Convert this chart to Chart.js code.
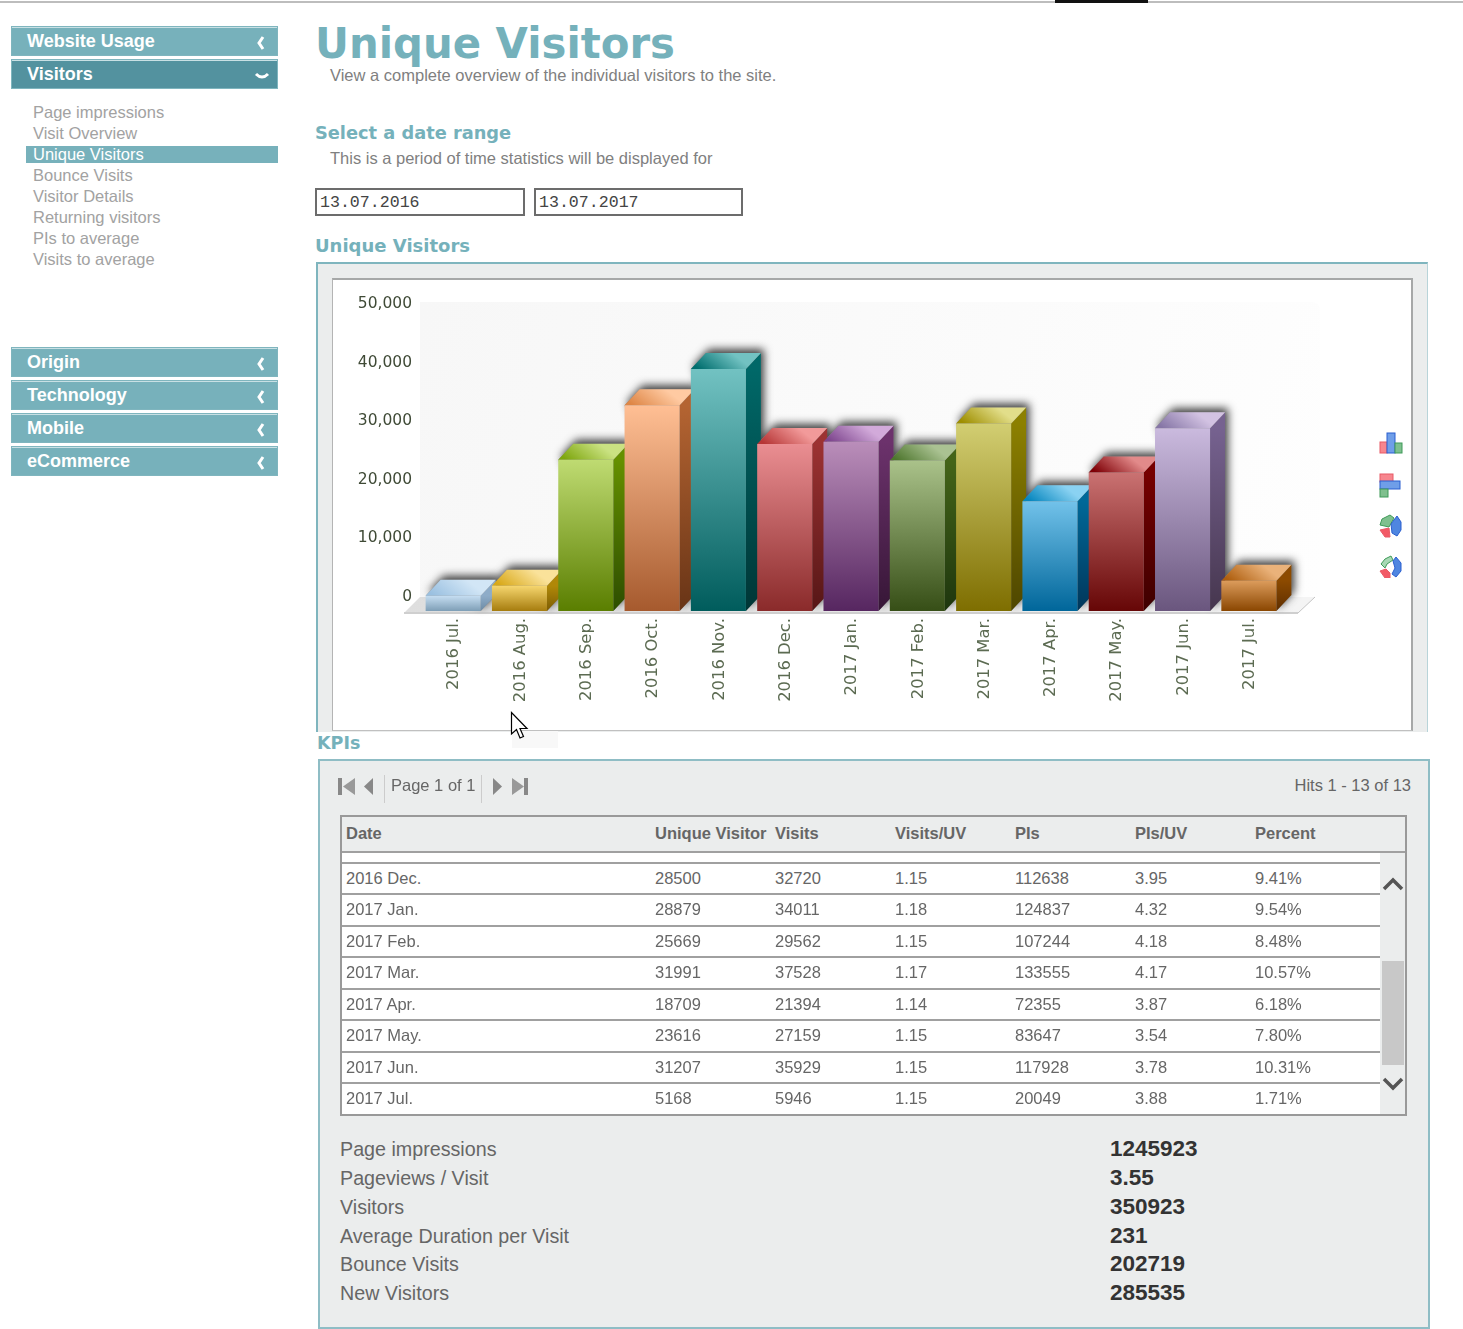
<!DOCTYPE html>
<html>
<head>
<meta charset="utf-8">
<title>Unique Visitors</title>
<script src="https://cdn.jsdelivr.net/npm/chart.js@4"></script>
<style>
html, body { margin: 0; padding: 0; background: #fff; }
body { position: relative; width: 1463px; height: 1329px; overflow: hidden; font-family: "Liberation Sans", Arial, sans-serif; }
.abs { position: absolute; white-space: nowrap; }
.btn { position: absolute; left: 11px; width: 265px; height: 27px; border: 1px solid #fff; outline: 1px solid #7fb5be; outline-offset: -1px; background: #77b1bb; border-top: 2px solid #c8e0e4; color: #fff; font-weight: bold; font-size: 18px; line-height: 27px; text-indent: 15px; }
.btn.dark { background: #53929f; }
.btn svg { position: absolute; right: 11px; top: 7px; }
.sub { position: absolute; left: 33px; font-size: 16.5px; color: #a2a2a2; line-height: 21px; }
.sub.on { left: 26px; width: 245px; padding-left: 7px; height: 17px; line-height: 17px; background: #77b1bb; color: #fff; }
.head { position: absolute; font-family: "DejaVu Sans", Verdana, sans-serif; font-weight: bold; color: #75b1bb; white-space: nowrap; }
.date { position: absolute; top: 188px; height: 24px; border: 2px solid #6c6c6c; font-family: "Liberation Mono", monospace; font-size: 16.6px; line-height: 25px; color: #444; padding-left: 3px; }
#panel { position: absolute; left: 316px; top: 262px; width: 1112px; height: 470px; background: #ebeded; border-top: 2px solid #7fb5be; border-left: 2px solid #7fb5be; border-right: 1px solid #b8d4d9; box-sizing: border-box; }
#frame { position: absolute; left: 332px; top: 278px; width: 1081px; height: 453px; background: #fff; border-top: 2px solid #a6a8a8; border-right: 2px solid #a6a8a8; border-left: 1px solid #b4b4b4; border-bottom: 1px solid #c0c0c0; box-sizing: border-box; }
#chartCanvas { position: absolute; left: 332px; top: 279px; }
#kpi { position: absolute; left: 318px; top: 759px; width: 1112px; height: 570px; background: #ebeded; border: 2px solid #8fbdc5; box-sizing: border-box; }
#grid { position: absolute; left: 340px; top: 815px; width: 1067px; height: 301px; border: 2px solid #999; box-sizing: border-box; }
#rows { position: absolute; left: 342px; top: 853px; width: 1038px; height: 261px; background: #fff; }
.line { position: absolute; height: 2px; background: #a0a0a0; }
.cell { position: absolute; font-size: 16.5px; color: #666; white-space: nowrap; line-height: 20px; }
.cell.h { font-weight: bold; }
.kLabel { position: absolute; left: 340px; font-size: 19.7px; color: #666; line-height: 26px; }
.kValue { position: absolute; left: 1110px; font-size: 22.5px; font-weight: bold; color: #333; line-height: 26px; }
</style>
</head>
<body>

<div class="abs" style="left:0;top:1px;width:1463px;height:2px;background:#bdbdbd"></div>
<div class="abs" style="left:1055px;top:0;width:93px;height:3px;background:#111"></div>

<div class="btn" style="top:26px">Website Usage<svg width="10" height="16"><path d="M7 2 L3 8 L7 14" stroke="#fff" stroke-width="3" fill="none"/></svg></div>
<div class="btn dark" style="top:59px">Visitors<svg width="16" height="16" style="top:8px;right:7px"><path d="M2 5 Q8 11 14 5" stroke="#fff" stroke-width="3" fill="none"/></svg></div>
<div class="btn" style="top:347px">Origin<svg width="10" height="16"><path d="M7 2 L3 8 L7 14" stroke="#fff" stroke-width="3" fill="none"/></svg></div>
<div class="btn" style="top:380px">Technology<svg width="10" height="16"><path d="M7 2 L3 8 L7 14" stroke="#fff" stroke-width="3" fill="none"/></svg></div>
<div class="btn" style="top:413px">Mobile<svg width="10" height="16"><path d="M7 2 L3 8 L7 14" stroke="#fff" stroke-width="3" fill="none"/></svg></div>
<div class="btn" style="top:446px">eCommerce<svg width="10" height="16"><path d="M7 2 L3 8 L7 14" stroke="#fff" stroke-width="3" fill="none"/></svg></div>

<div class="sub" style="top:102px">Page impressions</div>
<div class="sub" style="top:123px">Visit Overview</div>
<div class="sub on" style="top:146px">Unique Visitors</div>
<div class="sub" style="top:165px">Bounce Visits</div>
<div class="sub" style="top:186px">Visitor Details</div>
<div class="sub" style="top:207px">Returning visitors</div>
<div class="sub" style="top:228px">PIs to average</div>
<div class="sub" style="top:249px">Visits to average</div>

<div class="head" style="left:315px;top:19px;font-size:41.8px;line-height:50px">Unique Visitors</div>
<div class="abs" style="left:330px;top:65px;font-size:16.5px;line-height:20px;color:#808080">View a complete overview of the individual visitors to the site.</div>
<div class="head" style="left:315px;top:121px;font-size:17.8px;line-height:24px">Select a date range</div>
<div class="abs" style="left:330px;top:148px;font-size:16.5px;line-height:20px;color:#808080">This is a period of time statistics will be displayed for</div>
<div class="date" style="left:315px;width:203px">13.07.2016</div>
<div class="date" style="left:534px;width:202px">13.07.2017</div>
<div class="head" style="left:315px;top:234px;font-size:18px;line-height:24px">Unique Visitors</div>

<div id="panel"></div>
<div id="frame"></div>
<canvas id="chartCanvas" width="1080" height="451" style="width:1080px;height:451px"></canvas>

<svg class="abs" style="left:1378px;top:432px" width="26" height="146">
  <g stroke-width="1">
    <rect x="2" y="10" width="7" height="11" fill="#f7868e" stroke="#e85a66"/>
    <rect x="9" y="1" width="8" height="20" fill="#6f9ee8" stroke="#2a5fd0"/>
    <rect x="17" y="11" width="7" height="10" fill="#7fc08e" stroke="#3f9a58"/>
    <rect x="2" y="42" width="13" height="8" fill="#f7868e" stroke="#e85a66"/>
    <rect x="2" y="49" width="20" height="8" fill="#6f9ee8" stroke="#2a5fd0"/>
    <rect x="2" y="57" width="8" height="8" fill="#7fc08e" stroke="#3f9a58"/>
    <path d="M12 83 L4 87 L2 93 L11 95 L16 86 Z" fill="#7fc08e" stroke="#3f9a58"/>
    <path d="M19 84 L23 90 L23 98 L19 104 L14 101 L13 92 Z" fill="#4f86e0" stroke="#2a5fd0"/>
    <path d="M2 98 L11 96 L12 105 L7 105 Z" fill="#f25a66" stroke="#e85a66"/>
    <path d="M3 132 L7 127 L13 124 L15 128 L9 132 L7 136 Z" fill="#a8d8b4" stroke="#3f9a58"/>
    <path d="M18 125 L23 131 L23 139 L18 145 L14 142 L17 136 L15 129 Z" fill="#4f86e0" stroke="#2a5fd0"/>
    <path d="M2 139 L8 137 L12 141 L12 146 L7 146 Z" fill="#f25a66" stroke="#e85a66"/>
  </g>
</svg>

<div class="abs" style="left:512px;top:731px;width:46px;height:17px;background:#f8f8f8"></div>
<div class="head" style="left:317px;top:731px;font-size:17.5px;line-height:24px">KPIs</div>
<svg class="abs" style="left:510px;top:711px" width="20" height="30"><path d="M1.5 1.5 L1.5 23 L6.5 18.5 L10 27 L13.5 25.5 L10 17.5 L17 17.5 Z" fill="#fff" stroke="#000" stroke-width="1.2"/></svg>

<div id="kpi"></div>
<svg class="abs" style="left:336px;top:775px" width="200" height="28">
  <rect x="2" y="3" width="4" height="17" fill="#888"/><path d="M19 3 L7 11.5 L19 20 Z" fill="#999"/>
  <path d="M37 3 L28 11.5 L37 20 Z" fill="#888"/>
  <rect x="48" y="0" width="1" height="28" fill="#ccc"/>
  <rect x="145" y="0" width="1" height="28" fill="#ccc"/>
  <path d="M157 3 L166 11.5 L157 20 Z" fill="#888"/>
  <path d="M176 3 L188 11.5 L176 20 Z" fill="#999"/><rect x="188" y="3" width="4" height="17" fill="#888"/>
</svg>
<div class="abs" style="left:391px;top:775px;font-size:16.5px;line-height:20px;color:#666">Page 1 of 1</div>
<div class="abs" style="right:52px;top:775px;font-size:16.5px;line-height:20px;color:#666">Hits 1 - 13 of 13</div>

<div id="grid"></div>
<div id="rows"></div>
<div class="abs" style="left:1382px;top:961px;width:22px;height:104px;background:#c8c8c8"></div>
<svg class="abs" style="left:1382px;top:875px" width="22" height="218">
  <path d="M2 14 L11 5 L20 14" stroke="#555" stroke-width="3.5" fill="none"/>
  <path d="M2 204 L11 213 L20 204" stroke="#555" stroke-width="3.5" fill="none"/>
</svg>

<script>
// chart data
const categories = ['2016 Jul.', '2016 Aug.', '2016 Sep.', '2016 Oct.', '2016 Nov.', '2016 Dec.', '2017 Jan.', '2017 Feb.', '2017 Mar.', '2017 Apr.', '2017 May.', '2017 Jun.', '2017 Jul.'];
const uniqueVisitors = [2600, 4300, 25800, 35100, 41300, 28500, 28879, 25669, 31991, 18709, 23616, 31207, 5168];
const yMin = 0;
const yMax = 50000;
const yStep = 10000;

// bar colours, one entry per month
const frontTop = ['#c6def2', '#f6d66e', '#bfdb72', '#ffbf94', '#72c2c2', '#ea8e92', '#ba8eba', '#aac28a', '#d2ce72', '#72c2ea', '#ca7272', '#cabade', '#dc9c5c'];
const frontBottom = ['#7e9eb6', '#a67c0e', '#5a7e00', '#a65a2e', '#005c5c', '#8a2a2a', '#562660', '#364e16', '#7e6e00', '#00669a', '#660606', '#6a567e', '#8a4600'];
const sideTop = ['#8eacc8', '#b08808', '#659000', '#b46432', '#006868', '#9c3232', '#6c326c', '#446418', '#8c8000', '#006898', '#760000', '#766290', '#8c4a00'];
const sideBottom = ['#6c8aa4', '#7c5c04', '#2d4d00', '#683416', '#003636', '#561616', '#361636', '#1e360e', '#4e4600', '#00365a', '#3e0000', '#46364e', '#5e2e00'];
const capFront = ['#9ac0e0', '#d8a818', '#7ea60e', '#de8646', '#006e6e', '#b63636', '#7e468e', '#4e762e', '#9e8e00', '#0686be', '#7e0006', '#8676a6', '#ae5e0e'];
const capBack = ['#d2e6f6', '#fae29a', '#cae282', '#ffcaa2', '#72c2c2', '#f29a9a', '#d2aada', '#aac292', '#e2de8a', '#8ad2f2', '#e28a8a', '#d2c2e2', '#eab27a'];

// table rows
const tableHeader = ['Date', 'Unique Visitor', 'Visits', 'Visits/UV', 'PIs', 'PIs/UV', 'Percent'];
const tableDates = ['2016 Dec.', '2017 Jan.', '2017 Feb.', '2017 Mar.', '2017 Apr.', '2017 May.', '2017 Jun.', '2017 Jul.'];
const tableUnique = ['28500', '28879', '25669', '31991', '18709', '23616', '31207', '5168'];
const tableVisits = ['32720', '34011', '29562', '37528', '21394', '27159', '35929', '5946'];
const tableVisitsUv = ['1.15', '1.18', '1.15', '1.17', '1.14', '1.15', '1.15', '1.15'];
const tablePis = ['112638', '124837', '107244', '133555', '72355', '83647', '117928', '20049'];
const tablePisUv = ['3.95', '4.32', '4.18', '4.17', '3.87', '3.54', '3.78', '3.88'];
const tablePercent = ['9.41%', '9.54%', '8.48%', '10.57%', '6.18%', '7.80%', '10.31%', '1.71%'];

const kpiLabels = ['Page impressions', 'Pageviews / Visit', 'Visitors', 'Average Duration per Visit', 'Bounce Visits', 'New Visitors'];
const kpiValues = ['1245923', '3.55', '350923', '231', '202719', '285535'];

// table and kpi text
const columnX = [346, 655, 775, 895, 1015, 1135, 1255];
const lineY = [851, 862, 893, 925, 956, 988, 1019, 1051, 1082];
const rowY = [878, 909, 941, 972, 1004, 1035, 1067, 1098];
const kpiY = [1149, 1178, 1207, 1236, 1264, 1293];

function addDiv(className, text, left, centerY) {
    const el = document.createElement('div');
    el.className = className;
    el.textContent = text;
    if (left !== null) el.style.left = left + 'px';
    el.style.top = (centerY - (className.startsWith('k') ? 13 : 10)) + 'px';
    document.body.appendChild(el);
}

lineY.forEach((y, i) => {
    const el = document.createElement('div');
    el.className = 'line';
    el.style.left = '342px';
    el.style.top = y + 'px';
    el.style.width = i === 0 ? '1063px' : '1038px';
    document.body.appendChild(el);
});

tableHeader.forEach((h, i) => addDiv('cell h', h, columnX[i], 833));
const tableColumns = [tableDates, tableUnique, tableVisits, tableVisitsUv, tablePis, tablePisUv, tablePercent];
tableColumns.forEach((col, c) => {
    col.forEach((text, r) => addDiv('cell', text, columnX[c], rowY[r]));
});
kpiLabels.forEach((text, i) => addDiv('kLabel', text, null, kpiY[i]));
kpiValues.forEach((text, i) => addDiv('kValue', text, null, kpiY[i]));

// depth of the fake 3d look, in pixels
const depthX = 15;
const depthY = 16;

function barGradient(context) {
    const chart = context.chart;
    if (!chart.chartArea) return frontTop[context.dataIndex];
    const i = context.dataIndex;
    const yScale = chart.scales.y;
    const g = chart.ctx.createLinearGradient(0, yScale.getPixelForValue(uniqueVisitors[i]), 0, yScale.getPixelForValue(0));
    g.addColorStop(0, frontTop[i]);
    g.addColorStop(1, frontBottom[i]);
    return g;
}

// draws the wall, the floor and the side + top of every bar behind the real bars
const bar3dPlugin = {
    id: 'bar3d',
    beforeDatasetsDraw(chart) {
        const ctx = chart.ctx;
        const area = chart.chartArea;
        const yScale = chart.scales.y;
        const wallTop = yScale.getPixelForValue(yMax) - depthY;
        const floorY = yScale.getPixelForValue(0) + 2;
        const backY = floorY - depthY;
        const wallRight = area.right + depthX + 23;

        ctx.save();
        const wall = ctx.createLinearGradient(area.left, wallTop, wallRight, backY);
        wall.addColorStop(0, '#f7f7f7');
        wall.addColorStop(0.6, '#fbfbfb');
        wall.addColorStop(1, '#fefefe');
        ctx.fillStyle = wall;
        ctx.beginPath();
        ctx.roundRect(area.left, wallTop, wallRight - area.left, backY - wallTop, [0, 8, 0, 0]);
        ctx.fill();

        const floor = ctx.createLinearGradient(area.left - 16, 0, area.right + 16, 0);
        floor.addColorStop(0, '#dedede');
        floor.addColorStop(0.5, '#e6e6e6');
        floor.addColorStop(1, '#f4f4f4');
        ctx.fillStyle = floor;
        ctx.beginPath();
        ctx.moveTo(area.left - 16, floorY);
        ctx.lineTo(area.left, backY);
        ctx.lineTo(wallRight - 5, backY);
        ctx.lineTo(area.right + 16, floorY);
        ctx.closePath();
        ctx.fill();
        ctx.fillStyle = '#cfcfcf';
        ctx.fillRect(area.left - 16, floorY - 1, area.right - area.left + 32, 2);
        ctx.strokeStyle = '#c4c4c4';
        ctx.beginPath();
        ctx.moveTo(area.right + 16, floorY);
        ctx.lineTo(wallRight - 5, backY);
        ctx.stroke();

        const bars = chart.getDatasetMeta(0).data;

        // soft shadow first so it never lands on a neighbouring face
        bars.forEach(bar => {
            const half = bar.width / 2;
            ctx.save();
            ctx.shadowColor = 'rgba(0,0,0,0.75)';
            ctx.shadowBlur = 9;
            ctx.shadowOffsetX = 3;
            ctx.shadowOffsetY = -4;
            ctx.fillStyle = '#888';
            ctx.beginPath();
            ctx.moveTo(bar.x - half, bar.y);
            ctx.lineTo(bar.x - half + depthX, bar.y - depthY);
            ctx.lineTo(bar.x + half + depthX, bar.y - depthY);
            ctx.lineTo(bar.x + half + depthX, bar.base - depthY);
            ctx.lineTo(bar.x + half, bar.base);
            ctx.closePath();
            ctx.fill();
            ctx.restore();
        });

        bars.forEach((bar, i) => {
            const half = bar.width / 2;
            const left = bar.x - half;
            const right = bar.x + half;

            const side = ctx.createLinearGradient(0, bar.y, 0, bar.base);
            side.addColorStop(0, sideTop[i]);
            side.addColorStop(1, sideBottom[i]);
            ctx.fillStyle = side;
            ctx.beginPath();
            ctx.moveTo(right, bar.y);
            ctx.lineTo(right + depthX, bar.y - depthY);
            ctx.lineTo(right + depthX, bar.base - depthY);
            ctx.lineTo(right, bar.base);
            ctx.closePath();
            ctx.fill();

            const cap = ctx.createLinearGradient(left + 8, bar.y, left + 28, bar.y - depthY - 10);
            cap.addColorStop(0, capFront[i]);
            cap.addColorStop(1, capBack[i]);
            ctx.fillStyle = cap;
            ctx.beginPath();
            ctx.moveTo(left, bar.y);
            ctx.lineTo(left + depthX, bar.y - depthY);
            ctx.lineTo(right + depthX, bar.y - depthY);
            ctx.lineTo(right, bar.y);
            ctx.closePath();
            ctx.fill();
        });
        ctx.restore();
    }
};

const visitorsChart = new Chart(document.getElementById('chartCanvas'), {
    type: 'bar',
    data: {
        labels: categories,
        datasets: [{
            label: 'Unique Visitors',
            data: uniqueVisitors,
            backgroundColor: barGradient,
            borderWidth: 0,
            barPercentage: 0.83,
            categoryPercentage: 1,
        }],
    },
    options: {
        responsive: false,
        animation: false,
        devicePixelRatio: 1,
        layout: { padding: { top: 39, right: 130, left: 0, bottom: 0 } },
        plugins: {
            legend: { display: false },
            tooltip: { enabled: false },
        },
        scales: {
            x: {
                grid: { display: false, drawTicks: false },
                border: { display: false },
                afterFit(scale) { scale.height = 119; },
                ticks: {
                    autoSkip: false,
                    minRotation: 90,
                    maxRotation: 90,
                    padding: 7,
                    labelOffset: 1,
                    color: '#5c6b52',
                    font: { family: '"DejaVu Sans"', size: 16.4 },
                },
            },
            y: {
                min: yMin,
                max: yMax,
                grid: { display: false, drawTicks: false },
                border: { display: false },
                afterFit(scale) { scale.width = 88; },
                ticks: {
                    stepSize: yStep,
                    padding: 8,
                    labelOffset: -14,
                    color: '#3f4a36',
                    font: { family: '"DejaVu Sans"', size: 15.5 },
                    callback: value => value.toLocaleString('en-US'),
                },
            },
        },
    },
    plugins: [bar3dPlugin],
});
</script>
</body>
</html>
